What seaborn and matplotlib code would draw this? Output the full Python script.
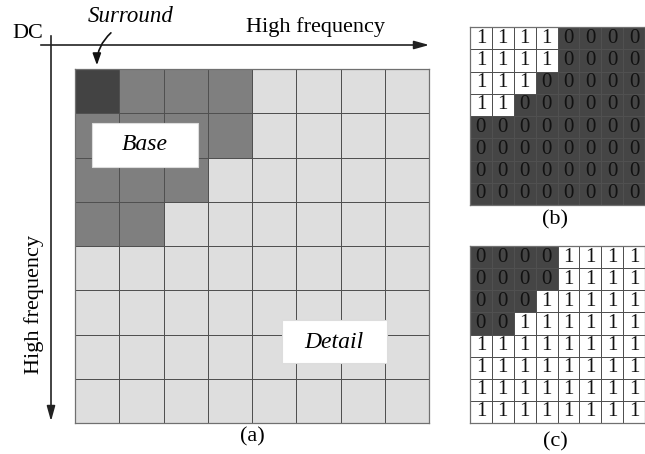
import numpy as np
import pandas as pd
import matplotlib
matplotlib.use("Agg")
import matplotlib.pyplot as plt
from matplotlib.colors import ListedColormap
import seaborn as sns

# ---- data ----
# (a): 2 = surround (DC), 1 = base, 0 = detail
region_a = [
    [2, 1, 1, 1, 0, 0, 0, 0],
    [1, 1, 1, 1, 0, 0, 0, 0],
    [1, 1, 1, 0, 0, 0, 0, 0],
    [1, 1, 0, 0, 0, 0, 0, 0],
    [0, 0, 0, 0, 0, 0, 0, 0],
    [0, 0, 0, 0, 0, 0, 0, 0],
    [0, 0, 0, 0, 0, 0, 0, 0],
    [0, 0, 0, 0, 0, 0, 0, 0],
]
mask_b = [
    [1, 1, 1, 1, 0, 0, 0, 0],
    [1, 1, 1, 1, 0, 0, 0, 0],
    [1, 1, 1, 0, 0, 0, 0, 0],
    [1, 1, 0, 0, 0, 0, 0, 0],
    [0, 0, 0, 0, 0, 0, 0, 0],
    [0, 0, 0, 0, 0, 0, 0, 0],
    [0, 0, 0, 0, 0, 0, 0, 0],
    [0, 0, 0, 0, 0, 0, 0, 0],
]
mask_c = [
    [0, 0, 0, 0, 1, 1, 1, 1],
    [0, 0, 0, 0, 1, 1, 1, 1],
    [0, 0, 0, 1, 1, 1, 1, 1],
    [0, 0, 1, 1, 1, 1, 1, 1],
    [1, 1, 1, 1, 1, 1, 1, 1],
    [1, 1, 1, 1, 1, 1, 1, 1],
    [1, 1, 1, 1, 1, 1, 1, 1],
    [1, 1, 1, 1, 1, 1, 1, 1],
]
region_labels = ["Surround", "Base", "Detail"]
axis_labels = ["DC", "High frequency", "High frequency"]
panel_labels = ["(a)", "(b)", "(c)"]

SERIF = ["Liberation Serif", "DejaVu Serif"]
plt.rcParams["font.family"] = SERIF

W, H = 645, 454
fig = plt.figure(figsize=(W / 100, H / 100), dpi=100)


def px_axes(x0, y0, x1, y1):
    return fig.add_axes([x0 / W, 1 - y1 / H, (x1 - x0) / W, (y1 - y0) / H])


def draw_grid(ax, data, cmap, annot=False):
    sns.heatmap(pd.DataFrame(data), ax=ax, cmap=ListedColormap(cmap), vmin=0,
                vmax=len(cmap) - 1, cbar=False, linewidths=0.6,
                linecolor="#505050", annot=annot, fmt="d",
                annot_kws={"color": "#111111", "fontsize": 15,
                           "family": SERIF})
    ax.set_xticks([]); ax.set_yticks([])
    ax.set_xlabel(""); ax.set_ylabel("")
    for s in ax.spines.values():
        s.set_visible(True)
        s.set_color("#707070")
        s.set_linewidth(0.9)


# panel (a)
ax_a = px_axes(75, 69, 429, 423)
draw_grid(ax_a, region_a, ["#dedede", "#7f7f7f", "#434343"])

# panel (b) and (c)
ax_b = px_axes(470, 27, 645, 205)
draw_grid(ax_b, mask_b, ["#454545", "#ffffff"], annot=True)
ax_c = px_axes(470, 246, 645, 423)
draw_grid(ax_c, mask_c, ["#454545", "#ffffff"], annot=True)

# overlay for arrows and text (pixel coordinates)
ov = fig.add_axes([0, 0, 1, 1], zorder=10)
ov.set_xlim(0, W); ov.set_ylim(H, 0)
ov.axis("off")
ov.patch.set_alpha(0)

ov.annotate("", xy=(432, 45), xytext=(38, 45),
            arrowprops=dict(arrowstyle="-|>,head_length=0.9,head_width=0.25",
                            color="#222222", lw=1.2))
ov.annotate("", xy=(51, 424), xytext=(51, 33),
            arrowprops=dict(arrowstyle="-|>,head_length=0.9,head_width=0.25",
                            color="#222222", lw=1.2))
ov.text(28, 33, axis_labels[0], fontsize=16, ha="center", va="center")
ov.text(316, 27, axis_labels[1], fontsize=16, ha="center", va="center")
ov.text(34, 305, axis_labels[2], fontsize=16, ha="center", va="center",
        rotation=90)
ov.text(131, 16, region_labels[0], fontsize=16.5, ha="center", va="center",
        style="italic")
ov.annotate("", xy=(97, 68), xytext=(113, 31),
            arrowprops=dict(arrowstyle="-|>,head_length=0.7,head_width=0.25",
                            color="#111111", lw=1.2,
                            connectionstyle="arc3,rad=0.25"))

ov.add_patch(plt.Rectangle((92, 123), 106, 44, facecolor="white",
                           edgecolor="#dddddd", lw=0.8))
ov.text(145, 145, region_labels[1], fontsize=17, ha="center", va="center",
        style="italic")
ov.add_patch(plt.Rectangle((282, 320), 105, 43, facecolor="white",
                           edgecolor="#dddddd", lw=0.8))
ov.text(334, 342, region_labels[2], fontsize=17, ha="center", va="center",
        style="italic")

ov.text(252, 437, panel_labels[0], fontsize=16, ha="center", va="center")
ov.text(555, 220, panel_labels[1], fontsize=16, ha="center", va="center")
ov.text(555, 442, panel_labels[2], fontsize=16, ha="center", va="center")

fig.savefig("out.png", dpi=100)
